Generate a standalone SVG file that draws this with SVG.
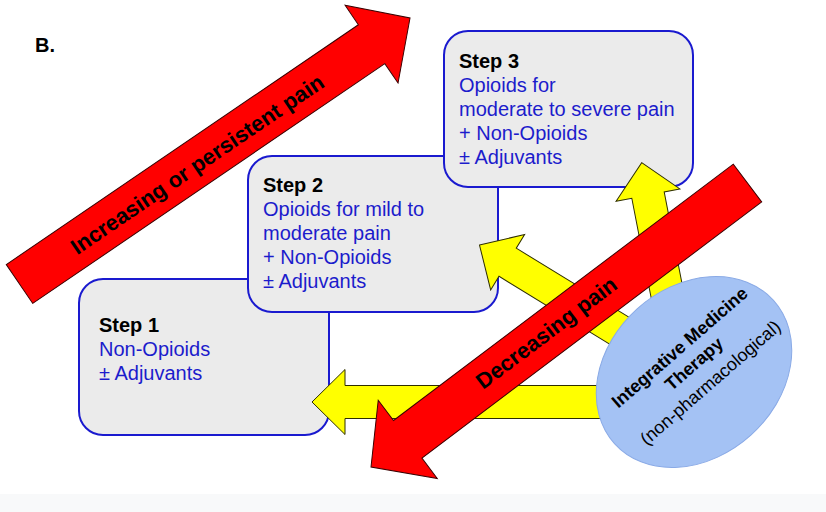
<svg xmlns="http://www.w3.org/2000/svg" width="826" height="512" viewBox="0 0 826 512">
<style>
.box{fill:#ebebeb;stroke:#1a1acf;stroke-width:2}
.hd{font-family:"Liberation Sans",Arial,sans-serif;font-size:20px;font-weight:bold;fill:#000}
.bd{font-family:"Liberation Sans",Arial,sans-serif;font-size:20px;fill:#1c1ccc}
.red{fill:#ff0000;stroke:#3a0000;stroke-width:1}
.yel{fill:#ffff00;stroke:#2e2e00;stroke-width:1}
.lbl{font-family:"Liberation Sans",Arial,sans-serif;font-size:22px;font-weight:bold;fill:#000;text-anchor:middle}
.el{font-family:"Liberation Sans",Arial,sans-serif;font-size:18px;fill:#000;text-anchor:middle}
</style>
<rect x="0" y="0" width="826" height="512" fill="#ffffff"/>
<rect x="0" y="494" width="826" height="18" fill="#f8f9fa"/>
<text x="35" y="52" class="hd">B.</text>

<g id="step1">
<rect class="box" x="79" y="279" width="250" height="156" rx="24"/>
<text class="hd" x="99" y="332">Step 1</text>
<text class="bd" x="99" y="356">Non-Opioids</text>
<text class="bd" x="99" y="380">± Adjuvants</text>
</g>
<g id="step2">
<rect class="box" x="248" y="156" width="250" height="156" rx="24"/>
<text class="hd" x="263" y="192">Step 2</text>
<text class="bd" x="263" y="216">Opioids for mild to</text>
<text class="bd" x="263" y="240">moderate pain</text>
<text class="bd" x="263" y="264">+ Non-Opioids</text>
<text class="bd" x="263" y="288">± Adjuvants</text>
</g>
<g id="step3">
<rect class="box" x="444" y="31" width="249" height="156" rx="24"/>
<text class="hd" x="459" y="68">Step 3</text>
<text class="bd" x="459" y="92">Opioids for</text>
<text class="bd" x="459" y="116">moderate to severe pain</text>
<text class="bd" x="459" y="140">+ Non-Opioids</text>
<text class="bd" x="459" y="164">± Adjuvants</text>
</g>

<g id="increasing">
<path class="red" transform="translate(19.5,284) rotate(-34.26)" d="M0,-23.5 L426,-23.5 L426,-47 L472.5,0 L426,47 L426,23.5 L0,23.5 Z"/>
<text class="lbl" transform="translate(198.3,165.8) rotate(-34.26)" x="0" y="5.7">Increasing or persistent pain</text>
</g>

<g id="connectors">
<path class="yel" transform="translate(312,402)" d="M0,0 L33,-32.5 L33,-16.5 L300,-16.5 L300,16.5 L33,16.5 L33,32.5 Z"/>
<path class="yel" transform="translate(479.5,245) rotate(31.5)" d="M0,0 L33,-32.5 L33,-16.5 L200,-16.5 L200,16.5 L33,16.5 L33,32.5 Z"/>
<path class="yel" transform="translate(641.7,162.7) rotate(79)" d="M0,0 L33,-32.5 L33,-16.5 L170,-16.5 L170,16.5 L33,16.5 L33,32.5 Z"/>
</g>

<g id="decreasing">
<path class="red" transform="translate(747.5,183) rotate(142.97)" d="M0,-23.6 L425.6,-23.6 L425.6,-49 L471.6,0 L425.6,49 L425.6,23.6 L0,23.6 Z"/>
<text class="lbl" transform="translate(547.5,334.2) rotate(-37)" x="0" y="5.7">Decreasing pain</text>
</g>

<g id="integrative">
<ellipse cx="0" cy="0" rx="107" ry="85" transform="translate(694,372) rotate(-42)" fill="#a4c2f4" stroke="#8aaae6" stroke-width="1"/>
<g transform="translate(695,365) rotate(-41)">
<text class="el" x="0" y="-17.3" font-weight="bold">Integrative Medicine</text>
<text class="el" x="0" y="4.6" font-weight="bold">Therapy</text>
<text class="el" x="0" y="29.5">(non-pharmacological)</text>
</g>
</g>
</svg>
